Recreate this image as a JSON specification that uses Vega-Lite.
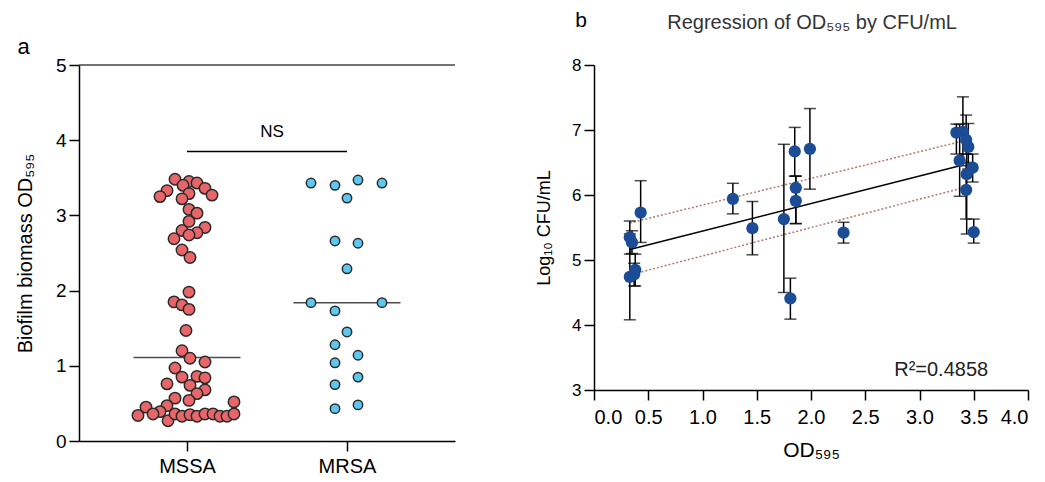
{
  "$schema": "https://vega.github.io/schema/vega-lite/v6.json",
  "background": "white",
  "padding": {"left": 15, "top": 9, "right": 2, "bottom": 2},
  "bounds": "flush",
  "spacing": 139,
  "config": {
    "font": "Liberation Sans",
    "view": {"stroke": null},
    "axis": {
      "domainColor": "#000", "domainWidth": 1.5, "tickColor": "#000", "tickWidth": 1.5, "tickSize": 10,
      "labelColor": "#000", "titleColor": "#000", "labelFontSize": 19, "titleFontSize": 20,
      "titleFontWeight": "normal", "grid": false, "labelFont": "Liberation Sans", "titleFont": "Liberation Sans"
    },
    "title": {"font": "Liberation Sans"}
  },
  "datasets": {
    "bee": [
      {"group": "MSSA", "od": 3.48, "jitter": -12}, {"group": "MSSA", "od": 3.45, "jitter": 2},
      {"group": "MSSA", "od": 3.40, "jitter": -4}, {"group": "MSSA", "od": 3.43, "jitter": 10},
      {"group": "MSSA", "od": 3.36, "jitter": 18}, {"group": "MSSA", "od": 3.33, "jitter": -20},
      {"group": "MSSA", "od": 3.25, "jitter": -27}, {"group": "MSSA", "od": 3.29, "jitter": 2},
      {"group": "MSSA", "od": 3.22, "jitter": -5}, {"group": "MSSA", "od": 3.27, "jitter": 25},
      {"group": "MSSA", "od": 3.08, "jitter": 2}, {"group": "MSSA", "od": 3.03, "jitter": 10},
      {"group": "MSSA", "od": 2.92, "jitter": 2}, {"group": "MSSA", "od": 2.84, "jitter": 18},
      {"group": "MSSA", "od": 2.80, "jitter": -5}, {"group": "MSSA", "od": 2.77, "jitter": 10},
      {"group": "MSSA", "od": 2.74, "jitter": 2}, {"group": "MSSA", "od": 2.69, "jitter": -13},
      {"group": "MSSA", "od": 2.54, "jitter": -5}, {"group": "MSSA", "od": 2.44, "jitter": 3},
      {"group": "MSSA", "od": 1.98, "jitter": 2}, {"group": "MSSA", "od": 1.85, "jitter": -13},
      {"group": "MSSA", "od": 1.81, "jitter": -5}, {"group": "MSSA", "od": 1.75, "jitter": 2},
      {"group": "MSSA", "od": 1.47, "jitter": -1}, {"group": "MSSA", "od": 1.20, "jitter": -5},
      {"group": "MSSA", "od": 1.10, "jitter": 3}, {"group": "MSSA", "od": 1.05, "jitter": 18},
      {"group": "MSSA", "od": 0.97, "jitter": -12}, {"group": "MSSA", "od": 0.85, "jitter": -5},
      {"group": "MSSA", "od": 0.86, "jitter": 10}, {"group": "MSSA", "od": 0.84, "jitter": 18},
      {"group": "MSSA", "od": 0.76, "jitter": -20}, {"group": "MSSA", "od": 0.74, "jitter": 3},
      {"group": "MSSA", "od": 0.68, "jitter": 18}, {"group": "MSSA", "od": 0.63, "jitter": 10},
      {"group": "MSSA", "od": 0.57, "jitter": -12}, {"group": "MSSA", "od": 0.54, "jitter": 2},
      {"group": "MSSA", "od": 0.52, "jitter": 47}, {"group": "MSSA", "od": 0.47, "jitter": -20},
      {"group": "MSSA", "od": 0.45, "jitter": -41}, {"group": "MSSA", "od": 0.39, "jitter": -27},
      {"group": "MSSA", "od": 0.34, "jitter": -49}, {"group": "MSSA", "od": 0.36, "jitter": -34},
      {"group": "MSSA", "od": 0.27, "jitter": -19}, {"group": "MSSA", "od": 0.36, "jitter": -12},
      {"group": "MSSA", "od": 0.33, "jitter": -5}, {"group": "MSSA", "od": 0.35, "jitter": 3},
      {"group": "MSSA", "od": 0.33, "jitter": 10}, {"group": "MSSA", "od": 0.36, "jitter": 18},
      {"group": "MSSA", "od": 0.36, "jitter": 26}, {"group": "MSSA", "od": 0.33, "jitter": 33},
      {"group": "MSSA", "od": 0.33, "jitter": 40}, {"group": "MSSA", "od": 0.36, "jitter": 47},
      {"group": "MRSA", "od": 3.43, "jitter": -36}, {"group": "MRSA", "od": 3.40, "jitter": -12},
      {"group": "MRSA", "od": 3.47, "jitter": 11}, {"group": "MRSA", "od": 3.43, "jitter": 35},
      {"group": "MRSA", "od": 3.23, "jitter": 0}, {"group": "MRSA", "od": 2.66, "jitter": -12},
      {"group": "MRSA", "od": 2.63, "jitter": 11}, {"group": "MRSA", "od": 2.29, "jitter": 0},
      {"group": "MRSA", "od": 1.84, "jitter": -36}, {"group": "MRSA", "od": 1.84, "jitter": 35},
      {"group": "MRSA", "od": 1.73, "jitter": -12}, {"group": "MRSA", "od": 1.45, "jitter": 0},
      {"group": "MRSA", "od": 1.28, "jitter": -12}, {"group": "MRSA", "od": 1.14, "jitter": 11},
      {"group": "MRSA", "od": 1.04, "jitter": -12}, {"group": "MRSA", "od": 0.85, "jitter": 11},
      {"group": "MRSA", "od": 0.75, "jitter": -12}, {"group": "MRSA", "od": 0.48, "jitter": 11},
      {"group": "MRSA", "od": 0.43, "jitter": -12}
    ],
    "med": [{"group": "MSSA", "od": 1.11}, {"group": "MRSA", "od": 1.84}],
    "ns": [{"group": "MSSA", "to": "MRSA", "od": 3.85, "ly": 4.11, "label": "NS"}],
    "pts": [
      {"x": 0.33, "y": 5.35, "lo": 5.09, "hi": 5.60},
      {"x": 0.35, "y": 5.27, "lo": 5.10, "hi": 5.45},
      {"x": 0.43, "y": 5.73, "lo": 5.27, "hi": 6.22},
      {"x": 0.33, "y": 4.74, "lo": 4.08, "hi": 5.40},
      {"x": 0.38, "y": 4.85, "lo": 4.60, "hi": 5.09},
      {"x": 0.37, "y": 4.78, "lo": 4.60, "hi": 4.95},
      {"x": 1.28, "y": 5.94, "lo": 5.71, "hi": 6.18},
      {"x": 1.46, "y": 5.49, "lo": 5.08, "hi": 5.90},
      {"x": 1.75, "y": 5.63, "lo": 4.50, "hi": 6.78},
      {"x": 1.81, "y": 4.41, "lo": 4.09, "hi": 4.72},
      {"x": 1.85, "y": 6.67, "lo": 6.29, "hi": 7.04},
      {"x": 1.86, "y": 6.11, "lo": 5.56, "hi": 6.29},
      {"x": 1.86, "y": 5.91, "lo": 5.56, "hi": 6.29},
      {"x": 1.99, "y": 6.71, "lo": 6.09, "hi": 7.33},
      {"x": 2.30, "y": 5.42, "lo": 5.26, "hi": 5.58},
      {"x": 3.34, "y": 6.96, "lo": 6.63, "hi": 7.09},
      {"x": 3.40, "y": 6.97, "lo": 6.45, "hi": 7.51},
      {"x": 3.43, "y": 6.85, "lo": 6.63, "hi": 7.23},
      {"x": 3.45, "y": 6.74, "lo": 6.40, "hi": 7.10},
      {"x": 3.37, "y": 6.53, "lo": 5.98, "hi": 7.09},
      {"x": 3.49, "y": 6.42, "lo": 6.20, "hi": 6.63},
      {"x": 3.435, "y": 6.32, "lo": 5.40, "hi": 6.63},
      {"x": 3.43, "y": 6.08, "lo": 5.63, "hi": 6.50},
      {"x": 3.50, "y": 5.43, "lo": 5.26, "hi": 5.63}
    ],
    "fit": [
      {"x": 0.33, "y": 5.16, "lo": 4.77, "hi": 5.57},
      {"x": 3.40, "y": 6.46, "lo": 6.11, "hi": 6.83}
    ],
    "notes": [
      {"x": 3.2, "y": 3.31, "t": "R²=0.4858"}
    ],
    "tag": [
      {"x": -0.12, "y": 8.68, "t": "b"}
    ],
    "head": [
      {"x": 2.01, "y": 8.65, "t": "Regression of OD₅₉₅ by CFU/mL"}
    ]
  },
  "hconcat": [
    {
      "width": 376,
      "height": 376,
      "title": {"text": "a", "anchor": "start", "frame": "bounds", "fontSize": 22, "fontWeight": "normal", "color": "#000", "dx": 2, "dy": 20, "offset": 0, "baseline": "alphabetic"},
      "layer": [
        {
          "data": {"values": [{"od": 5}]},
          "mark": {"type": "rule", "color": "#444", "strokeWidth": 1.5},
          "encoding": {"y": {"field": "od", "type": "quantitative", "scale": {"domain": [0, 5], "nice": false}, "title": "Biofilm biomass OD₅₉₅"}}
        },
        {
          "data": {"name": "med"},
          "mark": {"type": "tick", "orient": "horizontal", "size": 107, "thickness": 1.5, "color": "#000"},
          "encoding": {
            "x": {"field": "group", "type": "nominal", "sort": ["MSSA", "MRSA"]},
            "y": {"field": "od", "type": "quantitative", "title": "Biofilm biomass OD₅₉₅"}
          }
        },
        {
          "data": {"name": "bee"},
          "mark": {"type": "circle", "stroke": "#2a2a2a", "strokeWidth": 1.5, "opacity": 1},
          "encoding": {
            "x": {"field": "group", "type": "nominal", "sort": ["MSSA", "MRSA"],
                  "scale": {"type": "point", "padding": 0.675},
                  "axis": {"title": null, "labelAngle": 0, "labelAlign": "center", "labelBaseline": "top", "labelPadding": 5, "labelFontSize": 20}},
            "xOffset": {"field": "jitter", "type": "quantitative", "scale": {"domain": [-60, 60], "range": [-60, 60]}},
            "y": {"field": "od", "type": "quantitative",
                  "axis": {"title": "Biofilm biomass OD₅₉₅", "values": [0, 1, 2, 3, 4, 5], "format": "d", "titlePadding": 20, "labelPadding": 3}},
            "fill": {"field": "group", "type": "nominal", "scale": {"domain": ["MSSA", "MRSA"], "range": ["#e8666a", "#5cc8ef"]}, "legend": null},
            "size": {"field": "group", "type": "nominal", "scale": {"domain": ["MSSA", "MRSA"], "range": [130, 88]}, "legend": null}
          }
        },
        {
          "data": {"name": "ns"},
          "mark": {"type": "rule", "strokeWidth": 1.5, "color": "#000"},
          "encoding": {
            "x": {"field": "group", "type": "nominal", "sort": ["MSSA", "MRSA"]},
            "x2": {"field": "to"},
            "y": {"field": "od", "type": "quantitative", "title": "Biofilm biomass OD₅₉₅"}
          }
        },
        {
          "data": {"name": "ns"},
          "mark": {"type": "text", "fontSize": 17, "dx": 85, "baseline": "middle", "color": "#000"},
          "encoding": {
            "x": {"field": "group", "type": "nominal", "sort": ["MSSA", "MRSA"]},
            "y": {"field": "ly", "type": "quantitative", "title": "Biofilm biomass OD₅₉₅"},
            "text": {"field": "label"}
          }
        }
      ]
    },
    {
      "width": 434,
      "height": 325,
      "layer": [
        {
          "data": {"name": "fit"},
          "mark": {"type": "line", "color": "#b07a72", "strokeWidth": 1.5, "strokeDash": [2, 2]},
          "encoding": {
            "x": {"field": "x", "type": "quantitative", "scale": {"domain": [0, 4], "nice": false},
                  "axis": {"title": "OD₅₉₅", "values": [0, 0.5, 1, 1.5, 2, 2.5, 3, 3.5, 4], "format": ".1f", "titleFontSize": 21, "labelFontSize": 20, "labelPadding": 7, "titlePadding": 12}},
            "y": {"field": "hi", "type": "quantitative", "scale": {"domain": [3, 8], "nice": false},
                  "axis": {"title": "Log₁₀ CFU/mL", "values": [3, 4, 5, 6, 7, 8], "format": "d", "titleFontSize": 18, "labelFontSize": 17, "titlePadding": 18, "labelPadding": 3}}
          }
        },
        {
          "data": {"name": "fit"},
          "mark": {"type": "line", "color": "#b07a72", "strokeWidth": 1.5, "strokeDash": [2, 2]},
          "encoding": {
            "x": {"field": "x", "type": "quantitative", "title": "OD₅₉₅"},
            "y": {"field": "lo", "type": "quantitative", "title": "Log₁₀ CFU/mL"}
          }
        },
        {
          "data": {"name": "fit"},
          "mark": {"type": "line", "color": "#000", "strokeWidth": 1.5},
          "encoding": {
            "x": {"field": "x", "type": "quantitative", "title": "OD₅₉₅"},
            "y": {"field": "y", "type": "quantitative", "title": "Log₁₀ CFU/mL"}
          }
        },
        {
          "data": {"name": "pts"},
          "mark": {"type": "rule", "color": "#000", "strokeWidth": 1.5},
          "encoding": {
            "x": {"field": "x", "type": "quantitative", "title": "OD₅₉₅"},
            "y": {"field": "lo", "type": "quantitative", "title": "Log₁₀ CFU/mL"},
            "y2": {"field": "hi"}
          }
        },
        {
          "data": {"name": "pts"},
          "mark": {"type": "tick", "orient": "horizontal", "size": 12, "thickness": 1.5, "color": "#000"},
          "encoding": {
            "x": {"field": "x", "type": "quantitative", "title": "OD₅₉₅"},
            "y": {"field": "lo", "type": "quantitative", "title": "Log₁₀ CFU/mL"}
          }
        },
        {
          "data": {"name": "pts"},
          "mark": {"type": "tick", "orient": "horizontal", "size": 12, "thickness": 1.5, "color": "#000"},
          "encoding": {
            "x": {"field": "x", "type": "quantitative", "title": "OD₅₉₅"},
            "y": {"field": "hi", "type": "quantitative", "title": "Log₁₀ CFU/mL"}
          }
        },
        {
          "data": {"name": "pts"},
          "mark": {"type": "circle", "size": 150, "color": "#1b4c95", "opacity": 1},
          "encoding": {
            "x": {"field": "x", "type": "quantitative", "title": "OD₅₉₅"},
            "y": {"field": "y", "type": "quantitative", "title": "Log₁₀ CFU/mL"}
          }
        },
        {
          "data": {"name": "notes"},
          "mark": {"type": "text", "fontSize": 20, "baseline": "middle", "align": "center", "color": "#222"},
          "encoding": {
            "x": {"field": "x", "type": "quantitative", "title": "OD₅₉₅"},
            "y": {"field": "y", "type": "quantitative", "title": "Log₁₀ CFU/mL"},
            "text": {"field": "t"}
          }
        },
        {
          "data": {"name": "tag"},
          "mark": {"type": "text", "fontSize": 21, "baseline": "middle", "align": "center", "color": "#000"},
          "encoding": {
            "x": {"field": "x", "type": "quantitative", "title": "OD₅₉₅"},
            "y": {"field": "y", "type": "quantitative", "title": "Log₁₀ CFU/mL"},
            "text": {"field": "t"}
          }
        },
        {
          "data": {"name": "head"},
          "mark": {"type": "text", "fontSize": 20, "baseline": "middle", "align": "center", "color": "#333"},
          "encoding": {
            "x": {"field": "x", "type": "quantitative", "title": "OD₅₉₅"},
            "y": {"field": "y", "type": "quantitative", "title": "Log₁₀ CFU/mL"},
            "text": {"field": "t"}
          }
        }
      ]
    }
  ]
}
